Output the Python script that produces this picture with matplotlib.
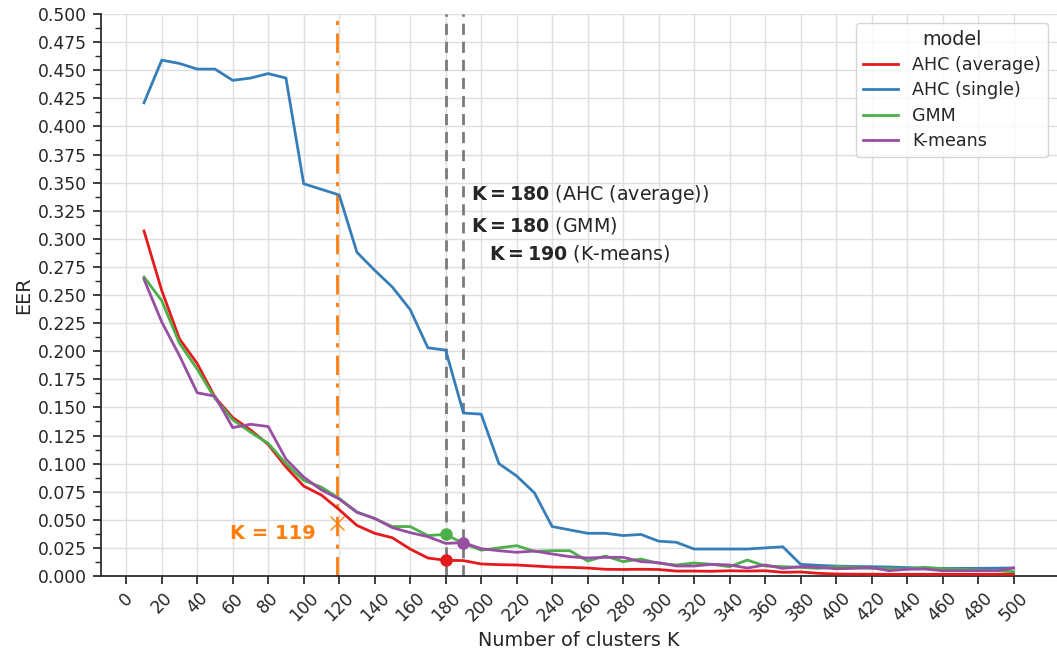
import matplotlib
matplotlib.use("Agg")
import matplotlib.pyplot as plt
from matplotlib.ticker import MultipleLocator, FormatStrFormatter

# Number of clusters evaluated
k_values = [10, 20, 30, 40, 50, 60, 70, 80, 90, 100,
            110, 120, 130, 140, 150, 160, 170, 180, 190, 200,
            210, 220, 230, 240, 250, 260, 270, 280, 290, 300,
            310, 320, 330, 340, 350, 360, 370, 380, 390, 400,
            410, 420, 430, 440, 450, 460, 470, 480, 490, 500]

eer_ahc_average = [0.307, 0.254, 0.211, 0.189, 0.159, 0.141, 0.130, 0.117, 0.097, 0.080,
                   0.072, 0.059, 0.045, 0.038, 0.034, 0.024, 0.016, 0.014, 0.0137, 0.0107,
                   0.0101, 0.0098, 0.0089, 0.0080, 0.0077, 0.0071, 0.0060, 0.0058, 0.0060, 0.0058,
                   0.0044, 0.0044, 0.0042, 0.0047, 0.0044, 0.0047, 0.0033, 0.0036, 0.0024, 0.0018,
                   0.0016, 0.0016, 0.0015, 0.0015, 0.0015, 0.0015, 0.0015, 0.0015, 0.0015, 0.0015]

eer_ahc_single = [0.421, 0.459, 0.456, 0.451, 0.451, 0.441, 0.443, 0.447, 0.443, 0.349,
                  0.344, 0.339, 0.288, 0.272, 0.257, 0.237, 0.203, 0.201, 0.145, 0.144,
                  0.100, 0.089, 0.074, 0.044, 0.041, 0.038, 0.038, 0.036, 0.037, 0.031,
                  0.030, 0.024, 0.024, 0.024, 0.024, 0.025, 0.026, 0.0104, 0.0095, 0.0088,
                  0.0085, 0.0083, 0.0080, 0.0075, 0.0070, 0.0068, 0.0068, 0.0068, 0.0070, 0.0072]

eer_gmm = [0.266, 0.245, 0.207, 0.184, 0.158, 0.139, 0.128, 0.118, 0.100, 0.085,
           0.079, 0.069, 0.057, 0.051, 0.044, 0.044, 0.036, 0.037, 0.029, 0.023,
           0.025, 0.027, 0.022, 0.0225, 0.0225, 0.0133, 0.0178, 0.0128, 0.0151, 0.0113,
           0.0098, 0.0116, 0.0104, 0.0083, 0.0142, 0.0089, 0.0083, 0.0077, 0.0068, 0.0083,
           0.0077, 0.0068, 0.0065, 0.0062, 0.0077, 0.0065, 0.0060, 0.0053, 0.0047, 0.0038]

eer_kmeans = [0.264, 0.226, 0.196, 0.163, 0.160, 0.132, 0.135, 0.133, 0.104, 0.088,
              0.0765, 0.0685, 0.0566, 0.0513, 0.043, 0.0386, 0.035, 0.029, 0.0297, 0.0243,
              0.0225, 0.0211, 0.0222, 0.0196, 0.0172, 0.0160, 0.0166, 0.0166, 0.0128, 0.0119,
              0.0089, 0.0089, 0.0104, 0.0098, 0.0071, 0.0098, 0.0068, 0.0083, 0.0077, 0.0065,
              0.0068, 0.0074, 0.0047, 0.0060, 0.0062, 0.0047, 0.0047, 0.0047, 0.0047, 0.0071]

model_names = ["AHC (average)", "AHC (single)", "GMM", "K-means"]
model_colors = ["#e41a1c", "#377eb8", "#4daf4a", "#984ea3"]

# Selected K per model (model index, K)
selected = [(0, 180), (2, 180), (3, 190)]
selected_labels = ["AHC (average)", "GMM", "K-means"]

# Elbow estimate
k_elbow = 119
eer_elbow = 0.047

x_ticks = list(range(0, 501, 20))

TEXT = "#262626"
plt.rcParams.update({
    "font.family": "DejaVu Sans",
    "text.color": TEXT,
    "axes.labelcolor": TEXT,
    "xtick.color": TEXT,
    "ytick.color": TEXT,
    "axes.edgecolor": TEXT,
})

fig = plt.figure(figsize=(10.57, 6.55), dpi=100)
ax = fig.add_axes([0.0951, 0.1206, 0.9049, 0.858])

series = [eer_ahc_average, eer_ahc_single, eer_gmm, eer_kmeans]
for name, color, vals in zip(model_names, model_colors, series):
    ax.plot(k_values, vals, color=color, lw=2, label=name, zorder=3)

# Elbow line and marker
ax.axvline(k_elbow, color="#ff7f0e", lw=2, ls=(0, (7, 3, 1.5, 3)), zorder=2)
ax.plot([k_elbow], [eer_elbow], marker="x", ms=10, mew=1.0, color="#ff7f0e", ls="none", zorder=4)
ax.text(k_elbow - 12, 0.0374, "K = 119", color="#ff7f0e", fontsize=14,
        fontweight="bold", ha="right", va="center")

# Selected K lines and markers
for k in sorted(set(k for _, k in selected)):
    ax.axvline(k, color="#7a7a7a", lw=2, ls=(0, (4, 2.5)), zorder=2)
for idx, k in selected:
    vals = series[idx]
    ax.plot([k], [vals[k_values.index(k)]], marker="o", ms=8, color=model_colors[idx],
            ls="none", zorder=5)

text_pos = [(194, 0.339), (194, 0.312), (204.5, 0.2865)]
for (idx, k), lab, (tx, ty) in zip(selected, selected_labels, text_pos):
    ax.text(tx, ty, r"$\mathbf{K=%d}$ (%s)" % (k, lab), fontsize=13.7,
            ha="left", va="center")

ax.set_xlim(-14.5, 524.5)
ax.set_ylim(0, 0.5)
ax.set_xticks(x_ticks)
ax.set_xticklabels([str(t) for t in x_ticks], rotation=45)
ax.yaxis.set_major_locator(MultipleLocator(0.025))
ax.yaxis.set_minor_locator(MultipleLocator(0.0125))
ax.yaxis.set_major_formatter(FormatStrFormatter("%.3f"))

ax.grid(True, which="major", color="#dedede", lw=1, zorder=0)
ax.set_axisbelow(True)
for s in ("top", "right"):
    ax.spines[s].set_visible(False)
ax.spines["left"].set_linewidth(1.25)
ax.spines["bottom"].set_linewidth(1.25)
ax.tick_params(axis="both", which="major", length=6, width=1.25, labelsize=12.3, direction="out")
ax.tick_params(axis="y", which="minor", length=4, width=1, direction="out")

ax.set_xlabel("Number of clusters K", fontsize=13.8)
ax.set_ylabel("EER", fontsize=13.8)

leg = ax.legend(title="model", loc="upper right", fontsize=12.6, title_fontsize=13.8,
                labelspacing=0.42, frameon=True, fancybox=True, framealpha=0.8,
                edgecolor="#cccccc")

fig.savefig("out.png", dpi=100)
